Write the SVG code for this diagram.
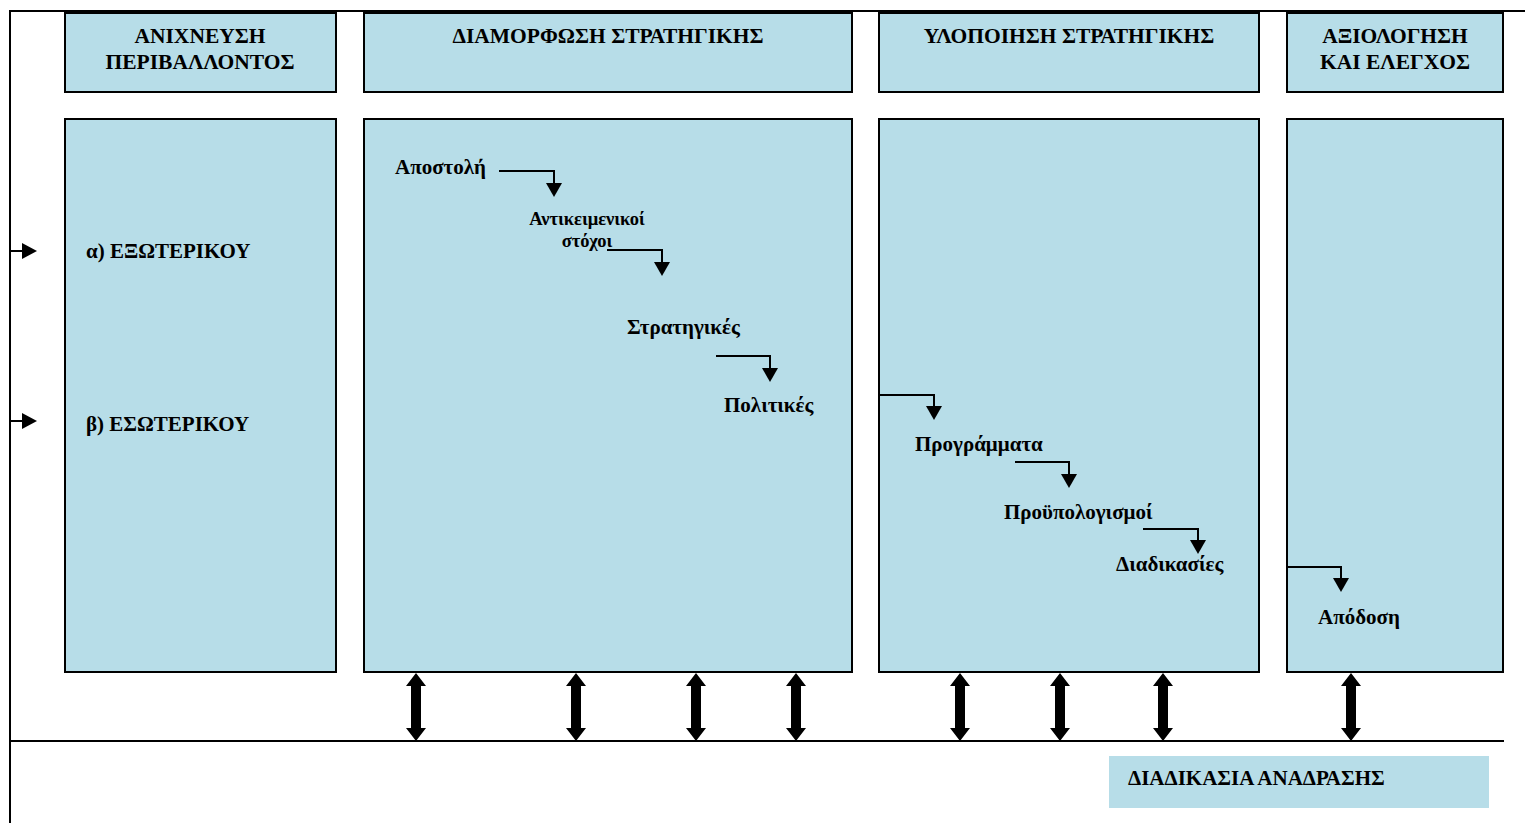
<svg xmlns="http://www.w3.org/2000/svg" width="1525" height="823" viewBox="0 0 1525 823">
<style>
.box{fill:#b7dde8;stroke:#000;stroke-width:2}
.t{font-family:'Liberation Serif','DejaVu Serif',serif;font-weight:700;fill:#000}
.h{font-size:21.5px;text-anchor:middle}
.b{font-size:21px}
.s{font-size:18.5px;text-anchor:middle}
.ln{fill:none;stroke:#000;stroke-width:2}
.ah{fill:#000}
</style>
<defs>
<path id="dn" d="M-8,-14 L8,-14 L0,0 Z" fill="#000"/>
<path id="dbl" d="M0,0 L10,13 L5,13 L5,55 L10,55 L0,68 L-10,55 L-5,55 L-5,13 L-10,13 Z" fill="#000"/>
</defs>
<rect width="1525" height="823" fill="#fff"/>
<g id="frame">
<path class="ln" d="M10,823 L10,11 L1525,11"/>
<path class="ln" d="M10,741 L1504,741"/>
</g>
<g id="h1"><rect class="box" x="65" y="13" width="271" height="79"/><text class="t h" x="200" y="43">ΑΝΙΧΝΕΥΣΗ</text><text class="t h" x="200" y="69">ΠΕΡΙΒΑΛΛΟΝΤΟΣ</text></g>
<g id="h2"><rect class="box" x="364" y="13" width="488" height="79"/><text class="t h" x="608" y="43">ΔΙΑΜΟΡΦΩΣΗ ΣΤΡΑΤΗΓΙΚΗΣ</text></g>
<g id="h3"><rect class="box" x="879" y="13" width="380" height="79"/><text class="t h" x="1069" y="43">ΥΛΟΠΟΙΗΣΗ ΣΤΡΑΤΗΓΙΚΗΣ</text></g>
<g id="h4"><rect class="box" x="1287" y="13" width="216" height="79"/><text class="t h" x="1395" y="43">ΑΞΙΟΛΟΓΗΣΗ</text><text class="t h" x="1395" y="69">ΚΑΙ ΕΛΕΓΧΟΣ</text></g>
<g id="b1"><rect class="box" x="65" y="119" width="271" height="553"/><text class="t b" x="86" y="258">α) ΕΞΩΤΕΡΙΚΟΥ</text><text class="t b" x="86" y="431">β) ΕΣΩΤΕΡΙΚΟΥ</text></g>
<g id="b2"><rect class="box" x="364" y="119" width="488" height="553"/>
<text class="t b" x="395" y="174">Αποστολή</text>
<text class="t s" x="587" y="225">Αντικειμενικοί</text><text class="t s" x="587" y="247">στόχοι</text>
<text class="t b" x="627" y="334">Στρατηγικές</text>
<text class="t b" x="724" y="412">Πολιτικές</text></g>
<g id="b3"><rect class="box" x="879" y="119" width="380" height="553"/>
<text class="t b" x="915" y="451">Προγράμματα</text>
<text class="t b" x="1004" y="519">Προϋπολογισμοί</text>
<text class="t b" x="1116" y="571">Διαδικασίες</text></g>
<g id="b4"><rect class="box" x="1287" y="119" width="216" height="553"/>
<text class="t b" x="1318" y="624">Απόδοση</text></g>
<g id="fb"><rect x="1109" y="756" width="380" height="52" fill="#b7dde8"/><text class="t b" x="1128" y="785">ΔΙΑΔΙΚΑΣΙΑ ΑΝΑΔΡΑΣΗΣ</text></g>
<g id="connectors">
<path class="ln" d="M10,251 L22,251"/><path class="ah" d="M22,243 L37,251 L22,259 Z"/>
<path class="ln" d="M10,421 L22,421"/><path class="ah" d="M22,413 L37,421 L22,429 Z"/>
<path class="ln" d="M499,171 L554,171 L554,184"/><use href="#dn" x="554" y="197"/>
<path class="ln" d="M607,250 L662,250 L662,263"/><use href="#dn" x="662" y="276"/>
<path class="ln" d="M716,356 L770,356 L770,369"/><use href="#dn" x="770" y="382"/>
<path class="ln" d="M879,395 L934,395 L934,407"/><use href="#dn" x="934" y="420"/>
<path class="ln" d="M1015,462 L1069,462 L1069,475"/><use href="#dn" x="1069" y="488"/>
<path class="ln" d="M1143,529 L1198,529 L1198,541"/><use href="#dn" x="1198" y="554"/>
<path class="ln" d="M1287,567 L1341,567 L1341,579"/><use href="#dn" x="1341" y="592"/>
<use href="#dbl" x="416" y="673"/>
<use href="#dbl" x="576" y="673"/>
<use href="#dbl" x="696" y="673"/>
<use href="#dbl" x="796" y="673"/>
<use href="#dbl" x="960" y="673"/>
<use href="#dbl" x="1060" y="673"/>
<use href="#dbl" x="1163" y="673"/>
<use href="#dbl" x="1351" y="673"/>
</g>
</svg>
